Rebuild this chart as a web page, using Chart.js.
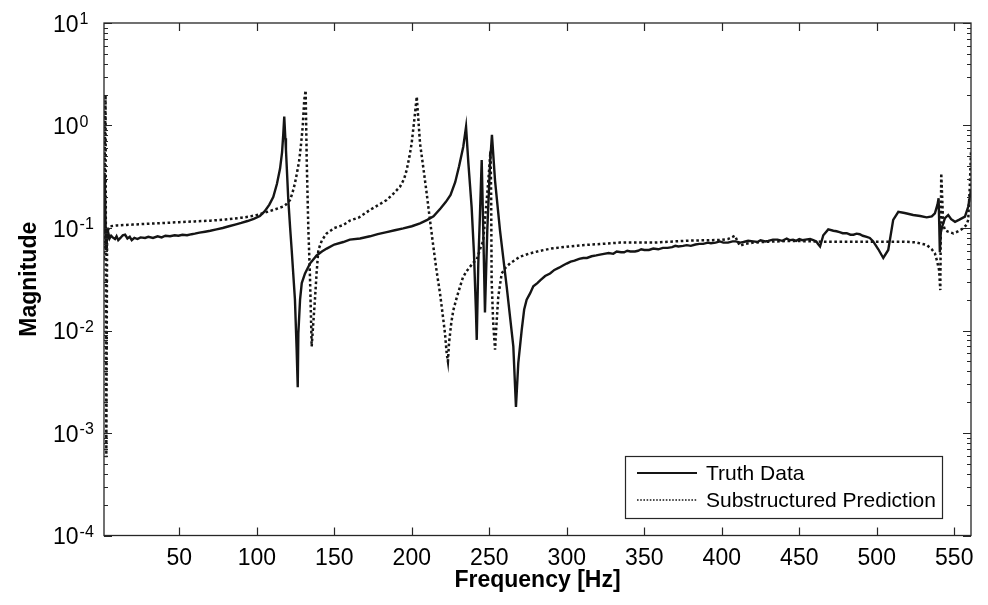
<!DOCTYPE html>
<html>
<head>
<meta charset="utf-8">
<title>Frequency response magnitude</title>
<script src="https://cdn.jsdelivr.net/npm/chart.js@4/dist/chart.umd.min.js"></script>
<style>
  html, body { margin: 0; padding: 0; background: #ffffff; }
  #wrap { width: 988px; height: 605px; }
</style>
</head>
<body>
<div id="wrap"><canvas id="c" width="988" height="605"></canvas></div>
<script>
// Measured FRF magnitude (truth) sampled along frequency [Hz]
const freqTruth = [
  1.4, 1.9, 2.3, 2.7, 3.2, 3.8, 4.3, 5.0, 6.0, 7.0, 8.5, 9.5, 10.6, 12, 13.5, 15, 16.5, 18, 19.3, 21,
  23, 25, 27.9, 30, 33, 36, 38.6, 41, 44, 47, 49.4, 52, 55, 58, 60, 63, 66.6, 70, 74, 78,
  82, 86, 90, 94, 98, 102, 105, 108, 110.6, 113, 115, 116.3, 117.1, 117.7, 118.4, 118.8, 120.3, 121.5, 122.5, 124.6,
  125.7, 126.4, 126.8, 127.9, 129, 131.1, 134.3, 138.6, 142, 145.1, 150, 155.8, 160, 166.6, 173, 178, 183.8, 189, 194.5, 200,
  205.3, 210, 214, 218.5, 222, 225, 228, 230.5, 233.2, 235, 236.5, 238.6, 240.1, 241.4, 241.9, 242.9, 244, 245.1, 246.1, 247.2,
  248.7, 250.5, 251.7, 253.7, 256.9, 261.2, 265.5, 267.2, 268.7, 270.9, 272.5, 274.1, 276.3, 278.4, 281, 283, 286, 289.2, 292, 295,
  297.5, 299.9, 302.5, 305, 308, 310.6, 313, 316, 319, 321.4, 324, 327, 330, 332.2, 335, 337, 339, 341, 344, 346,
  348, 350, 353, 355.8, 359, 362, 365, 368, 370, 372, 375, 377.4, 380, 383, 385.5, 388, 391, 393, 396, 398.8,
  401, 404, 407, 409, 412, 414, 417, 420.3, 423, 425, 428, 430, 433, 436, 439, 441.9, 444, 446, 448, 450,
  452, 454, 457, 459, 461, 462, 463.4, 465.5, 468.7, 472, 474, 476, 478, 480.6, 483, 485, 487, 489, 491, 493.5,
  495.5, 497.7, 501, 504.2, 507.4, 510.6, 513.9, 518, 523.5, 528, 532.2, 535.5, 537.5, 539.2, 539.9, 540.3, 540.7, 541.3, 542.2, 544,
  546.1, 548, 550.5, 553, 556.9, 559, 560.8
];
const magTruth = [
  0.09, 0.33, 0.14, 0.065, 0.1, 0.082, 0.088, 0.079, 0.084, 0.081, 0.078, 0.083, 0.076, 0.080, 0.085, 0.086, 0.079, 0.082, 0.076, 0.080,
  0.078, 0.081, 0.080, 0.082, 0.080, 0.083, 0.081, 0.084, 0.083, 0.085, 0.084, 0.086, 0.085, 0.087, 0.088, 0.090, 0.092, 0.094, 0.097, 0.100,
  0.104, 0.108, 0.112, 0.117, 0.123, 0.131, 0.145, 0.168, 0.2, 0.27, 0.38, 0.55, 0.84, 1.22, 0.75, 0.58, 0.19, 0.1, 0.061, 0.02,
  0.0065, 0.0028, 0.0094, 0.02, 0.029, 0.036, 0.045, 0.054, 0.059, 0.063, 0.069, 0.073, 0.077, 0.079, 0.083, 0.087, 0.091, 0.095, 0.099, 0.104,
  0.111, 0.12, 0.13, 0.155, 0.18, 0.21, 0.28, 0.4, 0.62, 0.97, 0.43, 0.16, 0.057, 0.015, 0.0081, 0.045, 0.14, 0.46, 0.095, 0.015,
  0.095, 0.43, 0.81, 0.29, 0.095, 0.027, 0.007, 0.0018, 0.0048, 0.0101, 0.016, 0.020, 0.023, 0.027, 0.029, 0.031, 0.034, 0.036, 0.039, 0.041,
  0.043, 0.045, 0.047, 0.048, 0.050, 0.051, 0.051, 0.053, 0.054, 0.055, 0.056, 0.057, 0.056, 0.059, 0.058, 0.058, 0.060, 0.059, 0.059, 0.060,
  0.062, 0.061, 0.061, 0.063, 0.062, 0.064, 0.064, 0.065, 0.067, 0.066, 0.067, 0.068, 0.067, 0.069, 0.070, 0.070, 0.072, 0.071, 0.072, 0.074,
  0.072, 0.072, 0.074, 0.074, 0.072, 0.073, 0.075, 0.074, 0.073, 0.076, 0.074, 0.075, 0.077, 0.077, 0.075, 0.079, 0.076, 0.077, 0.075, 0.078,
  0.076, 0.077, 0.078, 0.076, 0.074, 0.070, 0.066, 0.085, 0.097, 0.094, 0.093, 0.091, 0.089, 0.089, 0.086, 0.086, 0.088, 0.087, 0.084, 0.082,
  0.080, 0.074, 0.062, 0.051, 0.061, 0.12, 0.144, 0.140, 0.134, 0.131, 0.127, 0.13, 0.139, 0.17, 0.195, 0.11, 0.058, 0.09, 0.103, 0.125,
  0.134, 0.122, 0.115, 0.12, 0.129, 0.161, 0.235
];

// Substructured prediction of the same FRF
const freqPred = [
  1.4, 1.9, 2.4, 2.9, 3.4, 5, 10, 20, 30, 40, 50, 60, 70, 80, 90, 95, 100, 105, 110.6, 115, 117.1,
  119, 121.4, 123, 124.6, 126, 127.4, 128.5, 129.6, 130.6, 131.5, 132.2, 133.2, 134.3, 135.4, 136.3, 137.5, 138.6, 139.7, 142, 145.1,
  150, 155.8, 160, 166, 173, 178, 183.8, 188, 192.4, 195, 196.7, 198.5, 199.9, 201.6, 203.2, 205.3, 207.5, 209.6, 211.7, 213.9,
  216, 218.2, 220, 221.4, 222.5, 223.3, 224, 225.5, 226.8, 229, 231.1, 233, 235.4, 239.7, 241.9, 244, 246.1, 247.2, 248.5, 249.4,
  250.5, 250.9, 251.2, 251.5, 252.5, 253.7, 254.7, 255.8, 258, 260.5, 263.4, 269.8, 276.3, 283, 290, 299.9, 310, 321.4, 334.3, 345,
  355.8, 366, 377.4, 388, 398.8, 404, 408.5, 410, 411.7, 415, 420.3, 430, 441.9, 452, 463.4, 480, 500, 517.1, 525, 532.2,
  535.5, 537.5, 539, 540.2, 541.0, 541.6, 542.2, 542.8, 544, 546, 549.4, 552, 555.8, 558, 559, 560, 560.8
];
const magPred = [
  0.05, 0.6, 2.0, 0.00058, 0.09, 0.104, 0.106, 0.108, 0.11, 0.112, 0.114, 0.116, 0.118, 0.121, 0.126, 0.129, 0.134, 0.141, 0.15, 0.158, 0.162,
  0.17, 0.1875, 0.22, 0.273, 0.35, 0.46, 0.65, 0.97, 1.77, 2.2, 0.46, 0.103, 0.0335, 0.007, 0.011, 0.02, 0.037, 0.061, 0.076, 0.0887,
  0.1, 0.107, 0.118, 0.127, 0.150, 0.166, 0.1875, 0.215, 0.253, 0.30, 0.368, 0.5, 0.67, 1.13, 1.91, 0.67, 0.38, 0.218, 0.12, 0.0658,
  0.038, 0.0231, 0.014, 0.0094, 0.006, 0.005, 0.0075, 0.012, 0.0158, 0.021, 0.0267, 0.033, 0.038, 0.046, 0.049, 0.062, 0.075, 0.12, 0.2, 0.294,
  0.5, 0.48, 0.2, 0.031, 0.012, 0.0065, 0.012, 0.0214, 0.036, 0.041, 0.0452, 0.0525, 0.0566, 0.06, 0.063, 0.0658, 0.068, 0.0698, 0.072, 0.072,
  0.072, 0.0735, 0.0752, 0.0758, 0.0764, 0.078, 0.084, 0.075, 0.067, 0.07, 0.072, 0.0735, 0.0746, 0.0745, 0.0736, 0.0736, 0.0736, 0.0736, 0.0725, 0.0683,
  0.062, 0.0566, 0.047, 0.0389, 0.0248, 0.342, 0.2, 0.11, 0.0955, 0.092, 0.0887, 0.092, 0.0993, 0.108, 0.12, 0.25, 0.55
];

// Axis ticks and labels
const xTickValues = [50, 100, 150, 200, 250, 300, 350, 400, 450, 500, 550];
const yDecadeExponents = [-4, -3, -2, -1, 0, 1];
const seriesLabels = ['Truth Data', 'Substructured Prediction'];
const xAxisTitle = 'Frequency [Hz]';
const yAxisTitle = 'Magnitude';

const FONT = '"Liberation Sans", Arial, Helvetica, sans-serif';
const AXIS_COLOR = '#262626';
const LINE_COLOR = '#151515';
const DOT_DASH = [2.6, 2.6];

function toPoints(xs, ys) { return xs.map((x, i) => ({ x: x, y: ys[i] })); }

// Box, inward ticks, tick labels, axis titles and legend
const axesDecor = {
  id: 'axesDecor',
  afterDatasetsDraw(chart) {
    const ctx = chart.ctx;
    const a = chart.chartArea;
    const xs = chart.scales.x, ys = chart.scales.y;
    ctx.save();
    ctx.strokeStyle = AXIS_COLOR;
    ctx.fillStyle = '#000';
    ctx.lineWidth = 1.2;

    // x ticks (bottom and top, pointing inward)
    ctx.beginPath();
    xTickValues.forEach(v => {
      const px = Math.round(xs.getPixelForValue(v)) + 0.5;
      ctx.moveTo(px, a.bottom); ctx.lineTo(px, a.bottom - 8);
      ctx.moveTo(px, a.top); ctx.lineTo(px, a.top + 8);
    });
    // y major and minor ticks (left and right)
    yDecadeExponents.forEach(e => {
      const py = Math.round(ys.getPixelForValue(Math.pow(10, e))) + 0.5;
      ctx.moveTo(a.left, py); ctx.lineTo(a.left + 8, py);
      ctx.moveTo(a.right, py); ctx.lineTo(a.right - 8, py);
      if (e < yDecadeExponents[yDecadeExponents.length - 1]) {
        for (let k = 2; k <= 9; k++) {
          const pm = Math.round(ys.getPixelForValue(k * Math.pow(10, e))) + 0.5;
          ctx.moveTo(a.left, pm); ctx.lineTo(a.left + 4, pm);
          ctx.moveTo(a.right, pm); ctx.lineTo(a.right - 4, pm);
        }
      }
    });
    ctx.stroke();

    // frame
    ctx.lineWidth = 1.3;
    ctx.strokeRect(a.left, a.top, a.right - a.left, a.bottom - a.top);

    // x tick labels
    ctx.font = '23px ' + FONT;
    ctx.textAlign = 'center';
    ctx.textBaseline = 'alphabetic';
    xTickValues.forEach(v => {
      ctx.fillText(String(v), xs.getPixelForValue(v), a.bottom + 29);
    });

    // y tick labels: 10 with a raised exponent
    yDecadeExponents.forEach(e => {
      const py = ys.getPixelForValue(Math.pow(10, e));
      ctx.font = '23px ' + FONT;
      ctx.textAlign = 'left';
      ctx.fillText('10', 53, py + 8.5);
      const w = ctx.measureText('10').width;
      ctx.font = '16px ' + FONT;
      ctx.fillText(String(e), 53 + w + 1, py + 1);
    });

    // axis titles
    ctx.font = 'bold 23px ' + FONT;
    ctx.textAlign = 'center';
    ctx.textBaseline = 'middle';
    ctx.fillText(xAxisTitle, (a.left + a.right) / 2, 581);
    ctx.save();
    ctx.translate(30, (a.top + a.bottom) / 2);
    ctx.rotate(-Math.PI / 2);
    ctx.fillText(yAxisTitle, 0, 0);
    ctx.restore();

    // legend
    const lx = 625, ly = 456, lw = 317, lh = 62;
    ctx.fillStyle = '#fff';
    ctx.fillRect(lx, ly, lw, lh);
    ctx.lineWidth = 1.2;
    ctx.strokeStyle = AXIS_COLOR;
    ctx.strokeRect(lx + 0.5, ly + 0.5, lw, lh);
    const rows = [ly + 17, ly + 44];
    chart.data.datasets.forEach((ds, i) => {
      ctx.save();
      ctx.strokeStyle = ds.borderColor;
      ctx.lineWidth = i === 0 ? 2.2 : 1.6;
      ctx.setLineDash(i === 0 ? [] : [1.6, 1.6]);
      ctx.beginPath();
      ctx.moveTo(637, rows[i]); ctx.lineTo(697, rows[i]);
      ctx.stroke();
      ctx.restore();
      ctx.fillStyle = '#000';
      ctx.font = '21px ' + FONT;
      ctx.textAlign = 'left';
      ctx.textBaseline = 'middle';
      ctx.fillText(ds.label, 706, rows[i] + 1);
    });
    ctx.restore();
  }
};

new Chart(document.getElementById('c'), {
  type: 'line',
  data: {
    datasets: [
      {
        label: seriesLabels[0],
        data: toPoints(freqTruth, magTruth),
        borderColor: LINE_COLOR,
        borderWidth: 2.4,
        pointRadius: 0,
        tension: 0,
        fill: false
      },
      {
        label: seriesLabels[1],
        data: toPoints(freqPred, magPred),
        borderColor: LINE_COLOR,
        borderWidth: 2.5,
        borderDash: DOT_DASH,
        borderCapStyle: 'butt',
        pointRadius: 0,
        tension: 0,
        fill: false
      }
    ]
  },
  options: {
    responsive: false,
    devicePixelRatio: 1,
    animation: false,
    layout: { padding: { left: 104, top: 23, right: 17, bottom: 69.5 } },
    plugins: { legend: { display: false }, tooltip: { enabled: false } },
    scales: {
      x: { type: 'linear', min: 1.4, max: 560.8, display: false },
      y: { type: 'logarithmic', min: 1e-4, max: 10, display: false }
    }
  },
  plugins: [axesDecor]
});
</script>
</body>
</html>
